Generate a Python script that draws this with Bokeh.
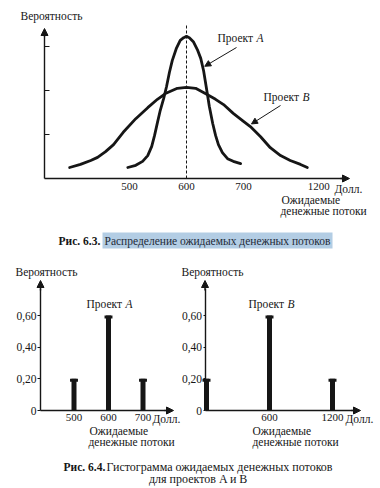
from bokeh.plotting import figure
from bokeh.layouts import column, row
from bokeh.models import Range1d, LinearAxis, FixedTicker, Arrow, NormalHead, Label
from bokeh.core.properties import value
from bokeh.embed import file_html
from bokeh.resources import INLINE

# ---------------- data ----------------
# Fig. 6.3: schematic probability curves (x: expected cash flow, y: relative probability)
curve_a_x = [497, 511, 523, 532, 539, 544, 549, 554, 560, 565, 570, 575, 582, 589, 595,
             600, 605, 612, 619, 625, 630, 635, 640, 646, 651, 656, 663, 672, 682, 695]
curve_a_y = [0.25, 0.30, 0.39, 0.52, 0.73, 0.98, 1.27, 1.55, 1.82, 2.09, 2.41, 2.68, 2.95, 3.14, 3.20,
             3.23, 3.20, 3.11, 2.93, 2.73, 2.45, 2.05, 1.64, 1.25, 0.98, 0.77, 0.59, 0.45, 0.39, 0.34]
curve_b_x = [395, 414, 432, 444, 458, 472, 489, 511, 532, 549, 563, 584, 600,
             616, 633, 651, 665, 682, 700, 712, 730, 747, 765, 782, 800, 812]
curve_b_y = [0.25, 0.32, 0.41, 0.48, 0.61, 0.77, 1.05, 1.36, 1.61, 1.80, 1.93, 2.05, 2.07,
             2.05, 1.93, 1.80, 1.68, 1.48, 1.30, 1.18, 0.95, 0.70, 0.52, 0.41, 0.32, 0.25]
expected_value = 600
top_tick_labels = ["500", "600", "700", "1200"]
top_tick_pos = [500, 600, 700, 832]      # schematic (non-linear) axis position of "1200"
top_prob_ticks = [1, 2, 3]

# Fig. 6.4: histograms
proj_a_x = [500, 600, 700]
proj_a_p = [0.20, 0.60, 0.20]
proj_b_x = [0, 600, 1200]
proj_b_p = [0.20, 0.60, 0.20]
prob_ticks = [0, 0.2, 0.4, 0.6]
prob_tick_labels = ["0", "0,20", "0,40", "0,60"]

FONT = "Liberation Serif"
INK = "#161616"


def make_fig(w, h, xr, yr):
    p = figure(width=w, height=h, x_range=Range1d(*xr), y_range=Range1d(*yr),
               x_axis_location=None, y_axis_location=None, toolbar_location=None,
               output_backend="svg", min_border=0, title=None)
    p.min_border_left = p.min_border_right = p.min_border_top = p.min_border_bottom = 0
    p.outline_line_color = None
    p.grid.visible = False
    p.background_fill_color = "white"
    p.border_fill_color = "white"
    return p


def style_axis(ax, size="11px"):
    ax.axis_line_color = INK
    ax.axis_line_width = 1.4
    ax.major_tick_line_color = INK
    ax.major_tick_line_width = 1.2
    ax.minor_tick_line_color = None
    ax.major_label_text_font = FONT
    ax.major_label_text_font_size = size
    ax.major_label_text_color = INK


def txt(p, x, y, s, size="11.5px", style="normal", align="left", color=INK):
    p.text(x=[x], y=[y], text=[s], text_font=value(FONT), text_font_size=size,
           text_font_style=style, text_align=align, text_baseline="middle", text_color=color)


def axis_arrow(p, x0, y0, x1, y1, size=7):
    p.add_layout(Arrow(end=NormalHead(size=size, fill_color=INK, line_color=INK, line_width=1),
                       x_start=x0, y_start=y0, x_end=x1, y_end=y1,
                       line_color=INK, line_width=1.4))


# ---------------- top chart (Fig. 6.3) ----------------
def t_x(px):
    return 600 + (px - 186) / 0.57


def t_y(py):
    return (178 - py) / 44.0


top = make_fig(380, 252, (t_x(0), t_x(380)), (t_y(252), t_y(0)))

yax = LinearAxis(fixed_location=t_x(44), bounds=(0, t_y(34)), ticker=FixedTicker(ticks=top_prob_ticks),
                 major_label_overrides={t: "" for t in top_prob_ticks})
style_axis(yax)
yax.major_tick_in = 5
yax.major_tick_out = 0
top.add_layout(yax, "left")

xax = LinearAxis(fixed_location=0, bounds=(t_x(44), t_x(342)), ticker=FixedTicker(ticks=top_tick_pos),
                 major_label_overrides=dict(zip(top_tick_pos, top_tick_labels)))
style_axis(xax)
xax.major_tick_in = 0
xax.major_tick_out = 0
xax.major_label_standoff = 4
top.add_layout(xax, "below")

axis_arrow(top, t_x(44), t_y(36), t_x(44), t_y(28))
axis_arrow(top, t_x(340), 0, t_x(349), 0)

top.segment(x0=[expected_value], y0=[0], x1=[expected_value], y1=[t_y(25)],
            line_color=INK, line_width=1, line_dash="3 2")
top.line(curve_b_x, curve_b_y, line_color=INK, line_width=2.8, line_cap="round", line_join="round")
top.line(curve_a_x, curve_a_y, line_color=INK, line_width=2.8, line_cap="round", line_join="round")

top.add_layout(Arrow(end=NormalHead(size=6, fill_color=INK, line_color=INK, line_width=1),
                     x_start=t_x(236), y_start=t_y(47), x_end=curve_a_x[20] + 2, y_end=curve_a_y[20] + 0.1,
                     line_color=INK, line_width=1))
top.add_layout(Arrow(end=NormalHead(size=6, fill_color=INK, line_color=INK, line_width=1),
                     x_start=t_x(280), y_start=t_y(105), x_end=curve_b_x[19] + 2, y_end=curve_b_y[19] + 0.06,
                     line_color=INK, line_width=1))

txt(top, t_x(20), t_y(15), "Вероятность")
txt(top, t_x(217), t_y(37), "Проект")
txt(top, t_x(256), t_y(37), "A", style="italic")
txt(top, t_x(263), t_y(96), "Проект")
txt(top, t_x(302), t_y(96), "B", style="italic")
txt(top, t_x(334), t_y(188), "Долл.")
txt(top, t_x(281), t_y(199), "Ожидаемые")
txt(top, t_x(280), t_y(210), "денежные потоки")

txt(top, t_x(58), t_y(240), "Рис. 6.3.", style="bold")
top.add_layout(Label(x=t_x(102), y=t_y(240), text="Распределение ожидаемых денежных потоков",
                     text_font=FONT, text_font_size="11.5px", text_baseline="middle",
                     text_color="#1f2b38", background_fill_color="#b3cde4", background_fill_alpha=1.0,
                     padding=2))


# ---------------- bottom charts (Fig. 6.4) ----------------
def p_y(py):
    return (410 - py) / 158.3


def a_x(px):
    return 600 + (px - 108) / 0.345


def b_x(px):
    return (px - 206) / 0.105


def histogram(xr_fn, xmin_px, xmax_px, axis_px, arrow_px, xs, ps, x_ticks, bar_w, cap_w,
              ylab_px, proj_px, proj_letter, doll_px, exp_px, w, tick_out):
    p = make_fig(w, 198, (xr_fn(xmin_px), xr_fn(xmax_px)), (p_y(450), p_y(252)))
    ya = LinearAxis(fixed_location=xr_fn(axis_px), bounds=(0, p_y(288)), ticker=FixedTicker(ticks=prob_ticks),
                    major_label_overrides=dict(zip(prob_ticks, prob_tick_labels)))
    style_axis(ya, "11.5px")
    ya.major_tick_in = 0
    ya.major_tick_out = tick_out
    ya.major_label_standoff = 1
    p.add_layout(ya, "left")
    xa = LinearAxis(fixed_location=0, bounds=(xr_fn(axis_px), xr_fn(arrow_px - 8)),
                    ticker=FixedTicker(ticks=x_ticks))
    style_axis(xa)
    xa.major_tick_in = 0
    xa.major_tick_out = 0
    xa.major_label_standoff = 3
    p.add_layout(xa, "below")
    axis_arrow(p, xr_fn(axis_px), p_y(290), xr_fn(axis_px), p_y(280))
    axis_arrow(p, xr_fn(arrow_px - 9), 0, xr_fn(arrow_px), 0)

    p.vbar(x=xs, top=ps, bottom=0, width=bar_w, fill_color=INK, line_color=None)
    p.vbar(x=xs, top=ps, bottom=[v - 0.019 for v in ps], width=cap_w, fill_color=INK, line_color=None)

    txt(p, xr_fn(ylab_px), p_y(271), "Вероятность")
    txt(p, xr_fn(proj_px), p_y(303), "Проект")
    txt(p, xr_fn(proj_px + 39), p_y(303), proj_letter, style="italic")
    txt(p, xr_fn(doll_px), p_y(418), "Долл.")
    txt(p, xr_fn(exp_px[0]), p_y(430), "Ожидаемые")
    txt(p, xr_fn(exp_px[1]), p_y(441), "денежные потоки")
    return p


figA = histogram(a_x, 0, 181, 40, 173, proj_a_x, proj_a_p, proj_a_x, 14.5, 23,
                 15, 86, "A", 152, (89, 88), 181, 3)
figB = histogram(b_x, 181, 380, 204.5, 360, proj_b_x, proj_b_p, proj_b_x[1:], 47.6, 76,
                 181, 248, "B", 345, (252, 252), 199, 2)

# ---------------- bottom caption ----------------
cap = make_fig(380, 38, (0, 380), (488, 450))
txt(cap, 63, 466, "Рис. 6.4.", style="bold")
txt(cap, 106, 466, "Гистограмма ожидаемых денежных потоков", size="12px")
txt(cap, 198, 478, "для проектов A и B", size="12px", align="center")

layout = column(top, row(figA, figB), cap)
open("out.html", "w").write(file_html(layout, INLINE))
